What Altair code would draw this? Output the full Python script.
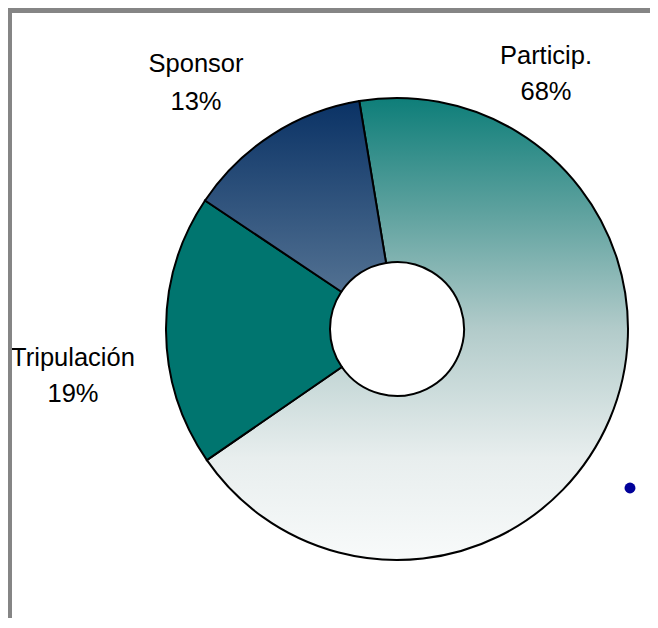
import math
import altair as alt
import pandas as pd

# --- data ---
categories = ["Particip.", "Tripulación", "Sponsor"]
shares = [68, 19, 13]
pct_labels = ["68%", "19%", "13%"]

# --- layout (annotation anchors, chart pixel coords) ---
label_x = [538, 65, 188]
label_y_name = [48, 350, 56]
label_y_pct = [84, 386, 94]

df = pd.DataFrame({
    "cat": categories,
    "value": shares,
    "pct": pct_labels,
    "order": [0, 1, 2],
    "lx": label_x,
    "ly1": label_y_name,
    "ly2": label_y_pct,
})

CX, CY = 389, 321
start = -9.4 * math.pi / 180

grad_particip = {
    "gradient": "linear", "x1": 0, "y1": 0, "x2": 0, "y2": 1,
    "stops": [
        {"offset": 0.0, "color": "#0e7e79"},
        {"offset": 0.25, "color": "#5fa29f"},
        {"offset": 0.5, "color": "#b2cbca"},
        {"offset": 0.78, "color": "#e8eeee"},
        {"offset": 1.0, "color": "#f8fafa"},
    ],
}
grad_sponsor = {
    "gradient": "linear", "x1": 0, "y1": 0, "x2": 0, "y2": 1,
    "stops": [
        {"offset": 0.0, "color": "#0a3265"},
        {"offset": 1.0, "color": "#527192"},
    ],
}

fill = (
    alt.when(alt.datum.cat == "Particip.").then(alt.value(grad_particip))
    .when(alt.datum.cat == "Sponsor").then(alt.value(grad_sponsor))
    .otherwise(alt.value("#00756f"))
)

arcs = alt.Chart(df).mark_arc(
    outerRadius=231, innerRadius=67, stroke="black", strokeWidth=2
).encode(
    theta=alt.Theta("value:Q", stack=True,
                    scale=alt.Scale(range=[start, start + 2 * math.pi])),
    order=alt.Order("order:Q"),
    fill=fill,
    x=alt.value(CX),
    y=alt.value(CY),
)

names = alt.Chart(df).mark_text(
    font="Liberation Sans", fontSize=25.5, color="black", baseline="middle", align="center"
).encode(
    x=alt.X("lx:Q", scale=None),
    y=alt.Y("ly1:Q", scale=None),
    text="cat:N",
)
pcts = alt.Chart(df).mark_text(
    font="Liberation Sans", fontSize=25.5, color="black", baseline="middle", align="center"
).encode(
    x=alt.X("lx:Q", scale=None),
    y=alt.Y("ly2:Q", scale=None),
    text="pct:N",
)

one = pd.DataFrame({"a": [0]})
dot = alt.Chart(one).mark_point(filled=True, color="#000099", size=120, opacity=1).encode(
    x=alt.value(622), y=alt.value(480)
)
top_border = alt.Chart(one).mark_rule(color="#858585", strokeWidth=5).encode(
    x=alt.value(0), x2=alt.value(650), y=alt.value(2.5)
)
left_border = alt.Chart(one).mark_rule(color="#858585", strokeWidth=4).encode(
    x=alt.value(2), y=alt.value(0), y2=alt.value(612)
)

chart = alt.layer(arcs, names, pcts, dot, top_border, left_border).properties(
    width=642, height=610,
    autosize=alt.AutoSizeParams(type="none"),
    padding=0,
).configure_view(stroke=None)

chart.save("out.html", embed_options={"renderer": "svg", "actions": False})
